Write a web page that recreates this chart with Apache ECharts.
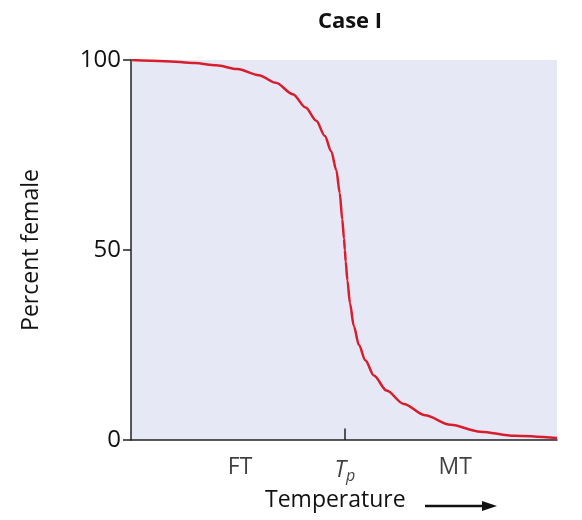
<!DOCTYPE html>
<html><head><meta charset="utf-8">
<script src="https://cdn.jsdelivr.net/npm/echarts@6/dist/echarts.min.js"></script>
<style>html,body{margin:0;padding:0;background:#fff}#c{width:582px;height:520px}</style>
</head><body><div id="c"></div>
<script>
const title = "Case I";
const yTicks = [0, 50, 100];
const xTickPos = [25.6, 50.2, 76.1];
const xTickLabels = ["FT", "Tp", "MT"];
const curveX = [0, 8, 15, 20, 25, 30, 34, 38, 41, 43.5, 45.5, 47, 48.2, 49, 49.6, 50, 50.2, 50.4, 50.8, 51.4, 52.3, 53.5, 55, 57, 60, 64, 69, 75, 82, 90, 100];
const curveY = [100, 99.7, 99.2, 98.6, 97.6, 96, 94, 91, 87.5, 84, 80, 76, 71, 65, 58, 53, 50, 47, 42, 36, 30, 25, 21, 17, 13, 9.5, 6.5, 4, 2.2, 1.1, 0.5];
const data = curveX.map((x, i) => [x, curveY[i]]);
const chart = echarts.init(document.getElementById('c'));
const font = '"Open Sans","Noto Sans",sans-serif';
chart.setOption({
  animation: false,
  title: { text: title, left: 345, top: 6, textAlign: 'center',
    textStyle: { fontFamily: font, fontWeight: 'bold', fontSize: 22, color: '#111' } },
  grid: { left: 131, right: 25, top: 60, bottom: 80, show: true, backgroundColor: '#e7e8f5', borderWidth: 0 },
  xAxis: { type: 'value', min: 0, max: 100, splitLine: { show: false },
    axisLine: { lineStyle: { color: '#222', width: 1.5 } },
    axisTick: { show: false }, axisLabel: { show: false } },
  yAxis: { type: 'value', min: 0, max: 100, interval: 50, splitLine: { show: false },
    name: 'Percent female', nameLocation: 'middle', nameGap: 88, nameRotate: 90,
    nameTextStyle: { fontFamily: font, fontSize: 23, color: '#111' },
    axisLine: { show: true, lineStyle: { color: '#222', width: 1.5 } },
    axisTick: { show: true, length: 8, lineStyle: { color: '#222', width: 1.5 } },
    axisLabel: { fontFamily: font, fontSize: 24, color: '#111', margin: 10 } },
  series: [
    { type: 'line', data: data, smooth: 0.3, smoothMonotone: 'x', showSymbol: false,
      lineStyle: { color: '#d81e2c', width: 2.5 } },
    { type: 'scatter', data: xTickPos.map((x, i) => [x, 0, xTickLabels[i]]), symbolSize: 0,
      label: { show: true, position: 'bottom', distance: 16, fontFamily: font, fontSize: 23, color: '#111',
        formatter: p => p.data[2] === 'Tp' ? '{i|T}{s|p}' : p.data[2],
        rich: { i: { fontStyle: 'italic', fontFamily: font, fontSize: 23, color: '#111' },
                s: { fontStyle: 'italic', fontFamily: font, fontSize: 16, color: '#111', verticalAlign: 'bottom', padding: [12, 0, 0, 0] } } },
      markLine: { silent: true, symbol: 'none', label: { show: false },
        lineStyle: { color: '#222', width: 1.5, type: 'solid' },
        data: [[{ coord: [50.2, 0] }, { coord: [50.2, 3] }]] } }
  ],
  graphic: [
    { type: 'text', left: 265, top: 489, style: { text: 'Temperature', fontFamily: font, fontSize: 23, fill: '#111' } },
    { type: 'line', shape: { x1: 425, y1: 506, x2: 486, y2: 506 }, style: { stroke: '#111', lineWidth: 2.5 } },
    { type: 'polygon', shape: { points: [[482, 501], [497, 506], [482, 511]] }, style: { fill: '#111' } }
  ]
});
</script></body></html>
